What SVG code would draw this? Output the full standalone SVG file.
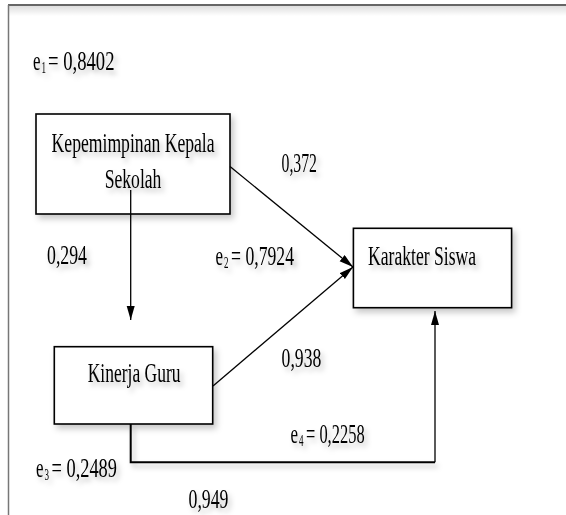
<svg xmlns="http://www.w3.org/2000/svg" width="566" height="515" viewBox="0 0 566 515">
<style>
.t{font-family:"Liberation Serif","Times New Roman",serif;font-size:28px;fill:#000}
.s{font-family:"Liberation Serif","Times New Roman",serif;font-size:16px;fill:#000}
.box{fill:#fff;stroke:#000;stroke-width:1.6}
.ln{fill:none;stroke:#000;stroke-width:1.3}
</style>
<defs>
<filter id="sh" x="-20%" y="-20%" width="150%" height="160%">
<feDropShadow dx="3" dy="4" stdDeviation="3" flood-color="#000" flood-opacity="0.22"/>
</filter>
<filter id="tsh" x="-10%" y="-30%" width="130%" height="180%">
<feDropShadow dx="3" dy="4" stdDeviation="2.5" flood-color="#000" flood-opacity="0.25"/>
</filter>
<linearGradient id="topsh" x1="0" y1="0" x2="0" y2="1">
<stop offset="0" stop-color="#000" stop-opacity="0.13"/>
<stop offset="1" stop-color="#000" stop-opacity="0"/>
</linearGradient>
<marker id="ah" markerUnits="userSpaceOnUse" markerWidth="15" markerHeight="9" refX="14" refY="4" orient="auto">
<path d="M0,0 L14,4 L0,8 z" fill="#000"/>
</marker>
</defs>
<rect x="0" y="0" width="566" height="515" fill="#fff"/>
<g id="frame">
<rect x="9" y="6" width="557" height="10" fill="url(#topsh)"/>
<line x1="8" y1="5" x2="566" y2="5" stroke="#333" stroke-width="1.6"/>
<line x1="8.5" y1="5" x2="8.5" y2="515" stroke="#777" stroke-width="1.5"/>
</g>
<g id="node-kepemimpinan">
<rect class="box" x="36" y="114" width="194" height="100" filter="url(#sh)"/>
<text class="t" x="51.6" y="151.7" textLength="163" lengthAdjust="spacingAndGlyphs" filter="url(#tsh)">Kepemimpinan Kepala</text>
<text class="t" x="104.7" y="188.3" textLength="56.7" lengthAdjust="spacingAndGlyphs" filter="url(#tsh)">Sekolah</text>
</g>
<g id="node-karakter">
<rect class="box" x="353.4" y="228.3" width="158.2" height="79.4" filter="url(#sh)"/>
<text class="t" x="368" y="265" textLength="108" lengthAdjust="spacingAndGlyphs" filter="url(#tsh)">Karakter Siswa</text>
</g>
<g id="node-kinerja">
<rect class="box" x="54.3" y="346.7" width="158.4" height="77.3" filter="url(#sh)"/>
<text class="t" x="87.7" y="381.7" textLength="92.8" lengthAdjust="spacingAndGlyphs" filter="url(#tsh)">Kinerja Guru</text>
</g>
<g id="connectors">
<line class="ln" x1="130.7" y1="190" x2="130.7" y2="320" marker-end="url(#ah)"/>
<line class="ln" x1="230" y1="166.5" x2="353" y2="267" marker-end="url(#ah)"/>
<line class="ln" x1="213" y1="386" x2="353" y2="267" marker-end="url(#ah)"/>
<path d="M130.7,424 V462.3 H435" fill="none" stroke="#000" stroke-width="2" filter="url(#tsh)"/>
<line class="ln" x1="435" y1="462.3" x2="435" y2="311" marker-end="url(#ah)"/>
</g>
<g id="labels" filter="url(#tsh)">
<text class="t" x="33" y="70" textLength="7.5" lengthAdjust="spacingAndGlyphs">e</text>
<text class="s" x="41.5" y="72.5" textLength="4.5" lengthAdjust="spacingAndGlyphs">1</text>
<text class="t" x="48" y="70" textLength="66.5" lengthAdjust="spacingAndGlyphs">= 0,8402</text>

<text class="t" x="281.5" y="172" textLength="35.5" lengthAdjust="spacingAndGlyphs">0,372</text>
<text class="t" x="47" y="264" textLength="40" lengthAdjust="spacingAndGlyphs">0,294</text>

<text class="t" x="215.5" y="265" textLength="7.5" lengthAdjust="spacingAndGlyphs">e</text>
<text class="s" x="224" y="267.5" textLength="4.5" lengthAdjust="spacingAndGlyphs">2</text>
<text class="t" x="231" y="265" textLength="63" lengthAdjust="spacingAndGlyphs">= 0,7924</text>

<text class="t" x="281.6" y="366.7" textLength="39.7" lengthAdjust="spacingAndGlyphs">0,938</text>

<text class="t" x="290.6" y="443.3" textLength="7.5" lengthAdjust="spacingAndGlyphs">e</text>
<text class="s" x="299.1" y="445.8" textLength="4.5" lengthAdjust="spacingAndGlyphs">4</text>
<text class="t" x="306" y="443.3" textLength="58.6" lengthAdjust="spacingAndGlyphs">= 0,2258</text>

<text class="t" x="36" y="477" textLength="7.5" lengthAdjust="spacingAndGlyphs">e</text>
<text class="s" x="44.5" y="479.5" textLength="4.5" lengthAdjust="spacingAndGlyphs">3</text>
<text class="t" x="51.5" y="477" textLength="65.5" lengthAdjust="spacingAndGlyphs">= 0,2489</text>

<text class="t" x="188.5" y="507.5" textLength="40" lengthAdjust="spacingAndGlyphs">0,949</text>
</g>
</svg>
